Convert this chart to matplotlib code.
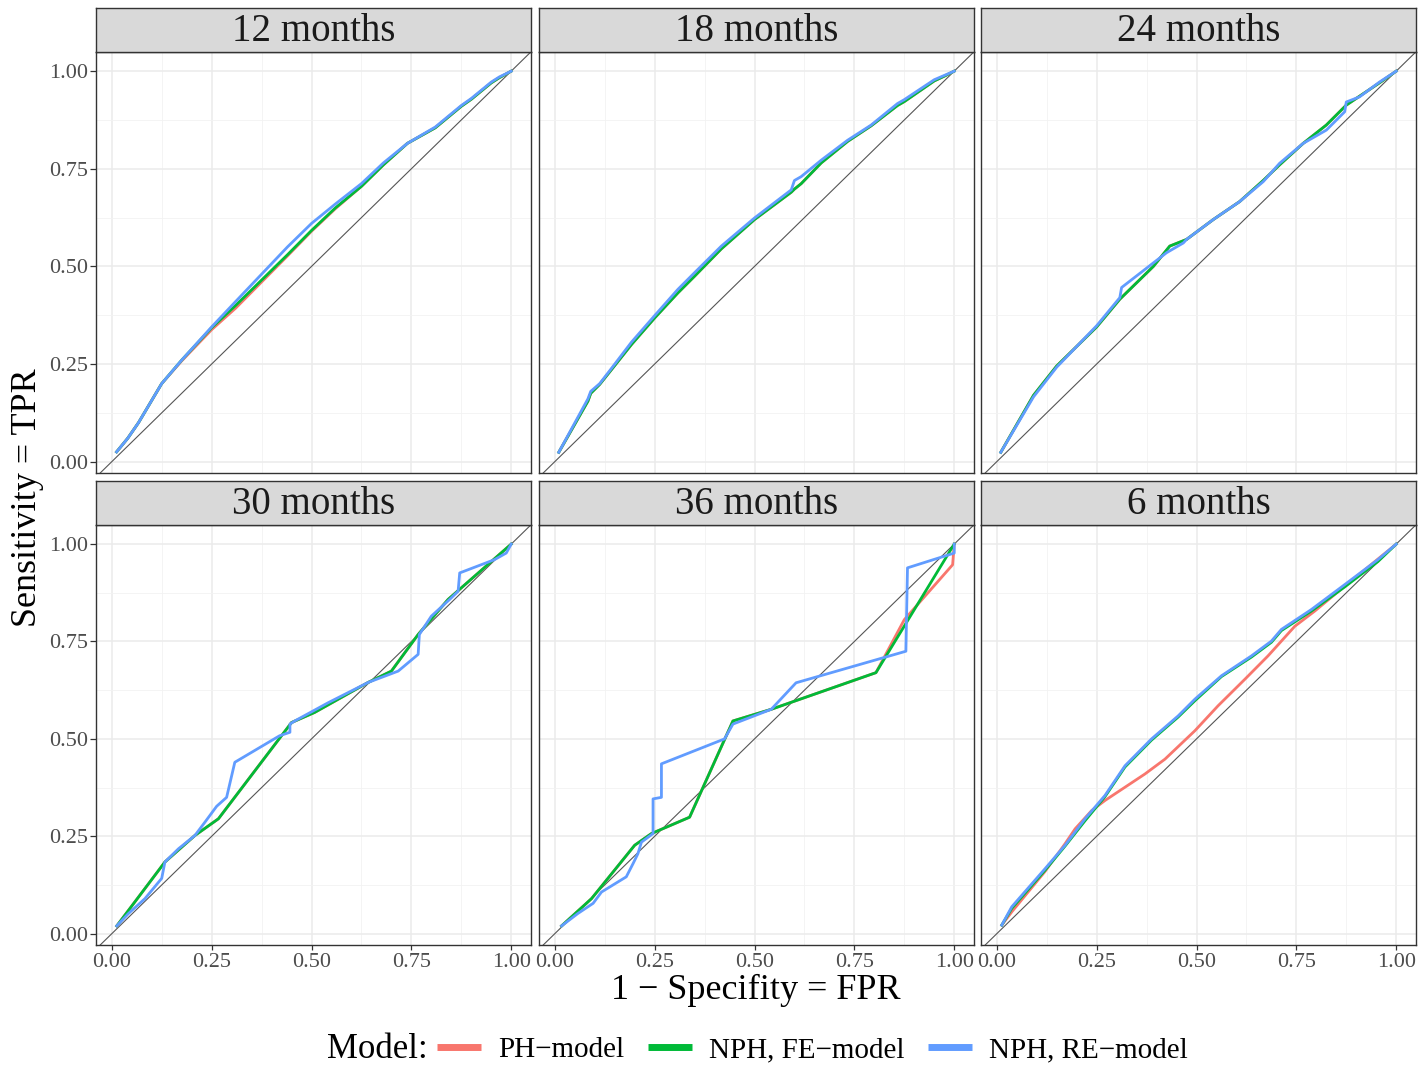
import matplotlib
matplotlib.use("Agg")
import matplotlib.pyplot as plt
from matplotlib.lines import Line2D
from matplotlib.ticker import MultipleLocator

# ---------------- data ----------------
panels = ["12 months", "18 months", "24 months", "30 months", "36 months", "6 months"]
models = ["PH\u2212model", "NPH, FE\u2212model", "NPH, RE\u2212model"]
colors = ["#F8766D", "#00BA38", "#619CFF"]
tick_vals = [0.0, 0.25, 0.5, 0.75, 1.0]
tick_labels = ["0.00", "0.25", "0.50", "0.75", "1.00"]

# 12 months
fpr_12 = [0.012, 0.04, 0.067, 0.096, 0.125, 0.175, 0.25, 0.31, 0.375, 0.44, 0.5, 0.56, 0.625, 0.68, 0.74, 0.81, 0.875, 0.9, 0.95, 0.97, 1.0]
tpr_12_re = [0.025, 0.06, 0.10, 0.15, 0.20, 0.26, 0.345, 0.41, 0.48, 0.55, 0.61, 0.66, 0.712, 0.765, 0.815, 0.857, 0.912, 0.93, 0.972, 0.985, 1.0]
tpr_12_fe = [0.025, 0.06, 0.10, 0.15, 0.20, 0.26, 0.343, 0.40, 0.465, 0.53, 0.592, 0.65, 0.705, 0.76, 0.815, 0.855, 0.91, 0.928, 0.97, 0.983, 1.0]
tpr_12_ph = [0.025, 0.06, 0.10, 0.15, 0.20, 0.258, 0.338, 0.393, 0.46, 0.527, 0.59, 0.648, 0.705, 0.76, 0.815, 0.855, 0.91, 0.928, 0.97, 0.983, 1.0]

# 18 months
fpr_18 = [0.01, 0.083, 0.09, 0.1125, 0.1375, 0.192, 0.25, 0.308, 0.35, 0.417, 0.5, 0.592, 0.6, 0.617, 0.667, 0.733, 0.792, 0.858, 0.875, 0.95, 0.975, 1.0]
tpr_18_re = [0.024, 0.161, 0.18, 0.20, 0.233, 0.306, 0.374, 0.441, 0.484, 0.552, 0.624, 0.696, 0.72, 0.73, 0.772, 0.823, 0.862, 0.917, 0.927, 0.978, 0.989, 1.0]
tpr_18_fe = [0.024, 0.155, 0.175, 0.198, 0.23, 0.30, 0.368, 0.432, 0.475, 0.545, 0.62, 0.69, 0.698, 0.712, 0.765, 0.82, 0.86, 0.912, 0.922, 0.975, 0.987, 1.0]
tpr_18_ph = [0.024, 0.155, 0.175, 0.198, 0.23, 0.30, 0.368, 0.432, 0.475, 0.545, 0.62, 0.69, 0.698, 0.712, 0.765, 0.82, 0.86, 0.912, 0.922, 0.975, 0.987, 1.0]

# 24 months
fpr_24_re = [0.01, 0.092, 0.15, 0.25, 0.308, 0.3125, 0.392, 0.425, 0.467, 0.475, 0.542, 0.608, 0.667, 0.708, 0.767, 0.825, 0.871, 0.875, 0.908, 0.958, 1.0]
tpr_24_re = [0.024, 0.166, 0.242, 0.348, 0.42, 0.446, 0.509, 0.535, 0.56, 0.569, 0.62, 0.666, 0.717, 0.764, 0.815, 0.849, 0.896, 0.921, 0.934, 0.972, 1.0]
fpr_24_fe = [0.01, 0.092, 0.15, 0.25, 0.308, 0.392, 0.433, 0.475, 0.542, 0.608, 0.667, 0.708, 0.767, 0.825, 0.875, 0.958, 1.0]
tpr_24_fe = [0.024, 0.17, 0.245, 0.345, 0.416, 0.50, 0.552, 0.569, 0.62, 0.666, 0.72, 0.76, 0.815, 0.862, 0.913, 0.97, 1.0]
tpr_24_ph = [0.024, 0.17, 0.245, 0.345, 0.416, 0.50, 0.552, 0.569, 0.62, 0.666, 0.72, 0.76, 0.815, 0.862, 0.913, 0.97, 1.0]

# 30 months
fpr_30_re = [0.0125, 0.042, 0.083, 0.125, 0.133, 0.167, 0.208, 0.233, 0.2625, 0.2875, 0.308, 0.42, 0.446, 0.446, 0.458, 0.542, 0.642, 0.717, 0.767, 0.77, 0.8, 0.846, 0.867, 0.871, 0.958, 0.9875, 1.0]
tpr_30_re = [0.02, 0.052, 0.09, 0.142, 0.184, 0.218, 0.252, 0.286, 0.327, 0.35, 0.44, 0.508, 0.517, 0.538, 0.546, 0.593, 0.645, 0.674, 0.717, 0.768, 0.815, 0.858, 0.879, 0.926, 0.96, 0.977, 1.0]
fpr_30_fe = [0.0125, 0.133, 0.208, 0.267, 0.45, 0.508, 0.642, 0.70, 0.767, 0.842, 1.0]
tpr_30_fe = [0.02, 0.184, 0.252, 0.295, 0.542, 0.568, 0.645, 0.674, 0.768, 0.858, 1.0]
tpr_30_ph = [0.02, 0.184, 0.252, 0.295, 0.542, 0.568, 0.645, 0.674, 0.768, 0.858, 1.0]

# 36 months
fpr_36_re = [0.017, 0.058, 0.096, 0.117, 0.179, 0.196, 0.208, 0.217, 0.246, 0.246, 0.267, 0.267, 0.425, 0.446, 0.542, 0.604, 0.879, 0.883, 1.0, 1.0]
tpr_36_re = [0.02, 0.052, 0.078, 0.107, 0.146, 0.18, 0.205, 0.235, 0.257, 0.346, 0.35, 0.436, 0.5, 0.538, 0.576, 0.644, 0.725, 0.939, 0.977, 1.0]
fpr_36_fe = [0.017, 0.092, 0.2, 0.242, 0.3375, 0.446, 0.542, 0.804, 1.0]
tpr_36_fe = [0.02, 0.09, 0.227, 0.257, 0.299, 0.546, 0.576, 0.67, 1.0]
fpr_36_ph = [0.017, 0.092, 0.2, 0.242, 0.3375, 0.446, 0.542, 0.804, 0.875, 0.996, 1.0]
tpr_36_ph = [0.02, 0.09, 0.227, 0.257, 0.299, 0.546, 0.576, 0.67, 0.806, 0.947, 1.0]

# 6 months
fpr_6 = [0.0125, 0.0375, 0.121, 0.171, 0.221, 0.271, 0.321, 0.3875, 0.454, 0.496, 0.5625, 0.6375, 0.6875, 0.7125, 0.7875, 0.871, 0.954, 1.0]
tpr_6_re = [0.022, 0.069, 0.167, 0.227, 0.295, 0.355, 0.431, 0.5, 0.559, 0.602, 0.662, 0.713, 0.751, 0.781, 0.832, 0.896, 0.96, 1.0]
tpr_6_fe = [0.022, 0.065, 0.163, 0.225, 0.29, 0.352, 0.428, 0.497, 0.556, 0.598, 0.66, 0.71, 0.748, 0.778, 0.828, 0.89, 0.955, 1.0]
fpr_6_ph = [0.0125, 0.0375, 0.121, 0.171, 0.196, 0.2375, 0.271, 0.371, 0.421, 0.496, 0.554, 0.621, 0.679, 0.746, 0.796, 0.871, 1.0]
tpr_6_ph = [0.022, 0.056, 0.16, 0.231, 0.269, 0.316, 0.342, 0.41, 0.448, 0.521, 0.585, 0.653, 0.713, 0.789, 0.828, 0.892, 1.0]

curves = {
    "12 months": [(fpr_12, tpr_12_ph), (fpr_12, tpr_12_fe), (fpr_12, tpr_12_re)],
    "18 months": [(fpr_18, tpr_18_ph), (fpr_18, tpr_18_fe), (fpr_18, tpr_18_re)],
    "24 months": [(fpr_24_fe, tpr_24_ph), (fpr_24_fe, tpr_24_fe), (fpr_24_re, tpr_24_re)],
    "30 months": [(fpr_30_fe, tpr_30_ph), (fpr_30_fe, tpr_30_fe), (fpr_30_re, tpr_30_re)],
    "36 months": [(fpr_36_ph, tpr_36_ph), (fpr_36_fe, tpr_36_fe), (fpr_36_re, tpr_36_re)],
    "6 months": [(fpr_6_ph, tpr_6_ph), (fpr_6, tpr_6_fe), (fpr_6, tpr_6_re)],
}

# ---------------- figure ----------------
plt.rcParams['font.family'] = ['Liberation Serif', 'DejaVu Serif']
W, H = 1419, 1065
fig = plt.figure(figsize=(W / 100, H / 100), dpi=100)
fig.patch.set_facecolor("white")

col_left = [96, 539, 981]
col_w = 435
row_top = [52, 525]
row_h = [421, 420]
strip_h = 44
border = "#333333"

for i, name in enumerate(panels):
    r, c = divmod(i, 3)
    x0 = col_left[c]
    y0 = row_top[r]
    ax = fig.add_axes([x0 / W, 1 - (y0 + row_h[r]) / H, col_w / W, row_h[r] / H])
    sax = fig.add_axes([x0 / W, 1 - y0 / H, col_w / W, strip_h / H])
    # strip
    sax.set_facecolor("#D9D9D9")
    sax.set_xticks([]); sax.set_yticks([])
    for sp in sax.spines.values():
        sp.set_color(border); sp.set_linewidth(1.0)
    sax.text(0.5, 0.47, name, ha="center", va="center", fontsize=28, color="#1A1A1A",
             transform=sax.transAxes)
    # panel
    ax.set_xlim(-0.0395, 1.0495)
    ax.set_ylim(-0.029, 1.049)
    ax.set_xticks(tick_vals)
    ax.set_yticks(tick_vals)
    ax.xaxis.set_minor_locator(MultipleLocator(0.125))
    ax.yaxis.set_minor_locator(MultipleLocator(0.125))
    ax.grid(True, which="major", color="#EBEBEB", lw=1.1, zorder=0)
    ax.grid(True, which="minor", color="#F2F2F2", lw=0.6, zorder=0)
    ax.set_axisbelow(True)
    for sp in ax.spines.values():
        sp.set_color(border); sp.set_linewidth(1.0)
    ax.tick_params(which="minor", length=0)
    ax.tick_params(which="major", color=border, width=0.9, labelcolor="#4D4D4D", labelsize=16)
    ax.tick_params(axis="y", length=4.3, pad=1.5)
    ax.tick_params(axis="x", length=3.5, pad=2.0)
    if c == 0:
        ax.set_yticklabels(tick_labels)
    else:
        ax.tick_params(axis="y", length=0, labelleft=False)
    if r == 1:
        ax.set_xticklabels(tick_labels)
    else:
        ax.tick_params(axis="x", length=0, labelbottom=False)
    ax.axline((0, 0), slope=1, color="#555555", lw=0.8, zorder=2)
    for (fx, ty), col in zip(curves[name], colors):
        ax.plot(fx, ty, color=col, lw=2.0, solid_joinstyle="round", zorder=3)

# axis titles
fig.text((96 + 1416) / 2 / W, 1 - 990 / H, "1 \u2212 Specifity = FPR", ha="center", va="center",
         fontsize=26, color="black")
fig.text(28 / W, 1 - 498 / H, "Sensitivity = TPR", ha="center", va="center", rotation=90,
         fontsize=26, color="black")

# legend
fig.text(327 / W, 1 - 1050 / H, "Model:", ha="left", va="center", fontsize=25, color="black")
handles = [Line2D([0], [0], color=col, lw=5, solid_capstyle="butt") for col in colors]
fig.legend(handles, models, loc="center", bbox_to_anchor=((440 + 1185) / 2 / W, 1 - 1050 / H),
           ncol=3, frameon=False, fontsize=21, handlelength=1.5, handletextpad=0.6,
           columnspacing=0.8, borderaxespad=0, borderpad=0)

fig.savefig("out.png", dpi=100, facecolor="white")
